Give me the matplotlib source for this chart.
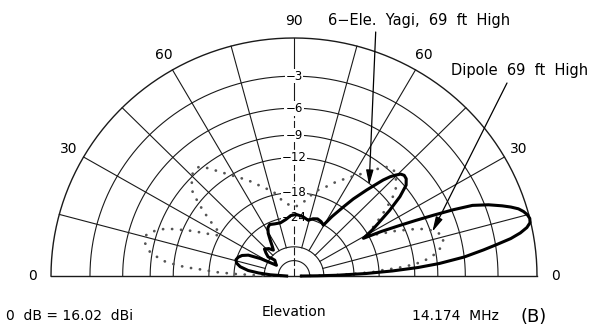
import numpy as np
import matplotlib
matplotlib.use("Agg")
import matplotlib.pyplot as plt

# ARRL log scale: each 2 dB down = factor 0.89 in radius
def to_xy(elev, db):
    r = 0.89 ** (-np.asarray(db, dtype=float) / 2)
    th = np.radians(np.asarray(elev, dtype=float))
    return r * np.cos(th), r * np.sin(th)

# grid rings (dB) and the labelled ones
ring_db = [0, -3, -6, -9, -12, -18, -24]
inner_ring_db = [-36, -47]
ring_labels = ["−3", "−6", "−9", "−12", "−18", "−24"]
spoke_angles = [15, 30, 45, 60, 75, 105, 120, 135, 150, 165]
angle_labels = ["0", "30", "60", "90", "60", "30", "0"]
angle_label_pos = [0, 30, 60, 90, 120, 150, 180]

# 6-ele Yagi, 69 ft (elevation deg, dB), in drawing order
yagi_elev = [0, 0.5, 1, 2, 3, 4, 5, 6.5, 8, 9, 10, 11, 12, 13, 14, 15, 16, 17, 18,
             19, 20.5, 22, 23, 24, 25, 26, 27.5, 29, 31, 33, 35, 37.4, 39.6, 41.5, 43,
             44.3, 45.4, 46.5, 47.7, 50.4, 53, 55, 58, 60.5, 64, 68, 72, 76, 82, 88, 93,
             98, 104, 110, 115, 118, 120.6, 123, 126, 128, 132, 137, 140, 143, 141, 140,
             145, 148, 152, 155, 158, 161, 164, 167, 170, 173, 175, 177, 180]
yagi_db = [-60, -40, -30, -21, -15.5, -11.5, -8.8, -6.0, -4.1, -2.9, -1.7, -0.9, -0.35,
           -0.05, 0, -0.1, -0.3, -0.6, -1.1, -1.7, -2.7, -4.0, -5.8, -8.0, -10.2, -12.4,
           -15.5, -19.2, -16.8, -14.8, -12.6, -10.3, -8.8, -8.3, -8.2, -8.4, -8.9, -9.5,
           -10.4, -13.0, -15.5, -17.8, -21.0, -24.1, -23.5, -23.2, -23.6, -24.4, -23.6,
           -23.2, -23.5, -24.5, -25.2, -25.0, -24.6, -25.3, -26.9, -29.5, -32.5, -34.0,
           -32.0, -30.8, -32.5, -34.6, -37.0, -39.0, -41.0, -42.3, -32.0, -27.0, -25.2,
           -24.3, -23.9, -24.3, -25.6, -28.5, -33.0, -40.0, -60]

# Dipole, 69 ft (symmetric pattern, 0..90 deg)
dip_elev = [0, 1, 2, 3, 3.9, 4.4, 5, 5.8, 6.5, 8.2, 9.8, 12.6, 14.5, 16, 18.4, 20.2,
            21.6, 22.9, 24.4, 26.5, 28.5, 30.4, 32.8, 35, 36.8, 38.6, 40.4, 43, 45.8,
            47.5, 49.7, 52, 55.2, 58.2, 62.3, 66.3, 70.5, 76.5, 81, 87, 90]
dip_db = [-60, -32, -24.5, -19, -17.2, -15.0, -13.3, -11.9, -10.8, -9.6, -8.7, -8.0,
          -7.8, -7.9, -8.7, -9.6, -10.7, -12.0, -13.4, -15.8, -17.6, -17.9, -15.9, -14.2,
          -12.8, -11.5, -10.3, -9.5, -8.8, -8.6, -8.7, -9.5, -10.8, -11.9, -13.2, -14.4,
          -15.8, -17.3, -19.4, -20.9, -21.2]

fig = plt.figure(figsize=(5.94, 3.33), dpi=100)
ax = fig.add_axes([0, 0, 1, 1])
ax.set_xlim(-294 / 243, 300 / 243)
ax.set_ylim(-57 / 238, 276 / 238)
ax.axis("off")

gc = "#1a1a1a"
t = np.linspace(0, np.pi, 361)
for d in ring_db + inner_ring_db:
    r = 0.89 ** (-d / 2)
    ax.plot(r * np.cos(t), r * np.sin(t), color=gc, lw=0.8 if d else 1.0, zorder=1)
r_in = 0.89 ** (-inner_ring_db[0] / 2)
for a in spoke_angles:
    c, s = np.cos(np.radians(a)), np.sin(np.radians(a))
    ax.plot([r_in * c, c], [r_in * s, s], color=gc, lw=0.8, zorder=1)
ax.plot([-1, 1], [0, 0], color=gc, lw=1.0, zorder=1)
r6 = 0.89 ** 3
ax.plot([0, 0], [r6, 1], color=gc, lw=0.8, zorder=1)
ax.plot([0, 0], [0, r6], color=gc, lw=0.8, ls=(0, (7, 2.5)), zorder=1)

for d, lab in zip(ring_db[1:], ring_labels):
    ax.text(0, 0.89 ** (-d / 2), lab, ha="center", va="center", fontsize=8.5,
            bbox=dict(fc="white", ec="none", pad=0.6), zorder=2)

for a, lab in zip(angle_label_pos, angle_labels):
    rr = 1.075 if a in (0, 180) else 1.07
    ax.text(rr * np.cos(np.radians(a)), rr * np.sin(np.radians(a)), lab,
            ha="center", va="center", fontsize=10)

# dipole (dotted), both sides
dx, dy = to_xy(dip_elev, dip_db)
ax.plot(np.concatenate([dx, -dx[::-1]]), np.concatenate([dy, dy[::-1]]),
        color="#555555", lw=2.0, ls=(0, (0.05, 3.2)), dash_capstyle="round", zorder=3)

# yagi (solid)
yx, yy = to_xy(yagi_elev, yagi_db)
ax.plot(yx, yy, color="black", lw=2.2, solid_joinstyle="round", zorder=4)

# annotations
ap = dict(arrowstyle="-|>,head_length=0.9,head_width=0.22", color="black", lw=0.9,
          shrinkA=0, shrinkB=0)
tip = to_xy(51, -12.2)
ax.annotate("", xy=tip, xytext=((375.7 - 294) / 243, (276 - 32) / 238), arrowprops=ap, zorder=5)
tip = to_xy(18.1, -8.8)
ax.annotate("", xy=tip, xytext=((507 - 294) / 243, (276 - 83) / 238), arrowprops=ap, zorder=5)

ax.text((328 - 294) / 243, (276 - 20) / 238, "6−Ele.  Yagi,  69  ft  High",
        ha="left", va="center", fontsize=10.5)
ax.text((451 - 294) / 243, (276 - 71) / 238, "Dipole  69  ft  High",
        ha="left", va="center", fontsize=10.5)

ax.text((6 - 294) / 243, (276 - 316) / 238, "0  dB = 16.02  dBi", ha="left", va="center", fontsize=10)
ax.text(0, (276 - 312) / 238, "Elevation", ha="center", va="center", fontsize=10)
ax.text((412 - 294) / 243, (276 - 316) / 238, "14.174  MHz", ha="left", va="center", fontsize=10)
ax.text((520 - 294) / 243, (276 - 317) / 238, "(B)", ha="left", va="center", fontsize=13)

fig.savefig("out.png", dpi=100)
